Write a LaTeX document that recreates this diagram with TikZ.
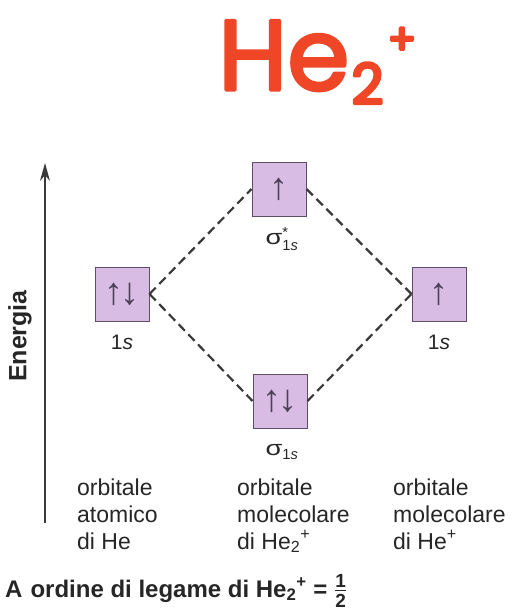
\documentclass[tikz,border=0pt]{standalone}
\usepackage{amsmath}
\usepackage{fontspec}
\usetikzlibrary{arrows.meta}
\setmainfont{Liberation Sans}
\newfontfamily\titlefont{Poppins}
\definecolor{titlered}{HTML}{EE4626}
\definecolor{boxfill}{HTML}{D8BCE4}
\definecolor{boxline}{HTML}{5E4E66}
\definecolor{arrowcol}{HTML}{4E3E58}
\definecolor{dashcol}{HTML}{3A3A3A}
\definecolor{textcol}{HTML}{262626}
\newcommand{\wsig}{\scalebox{1.3}[1]{σ}}
\newcommand{\fnum}[1]{\text{\fontsize{19}{19}\selectfont\bfseries #1}}
\newcommand{\heavytext}[1]{\special{pdf:literal direct 2 Tr 3 w 1 j}#1\special{pdf:literal direct 0 Tr 1 w 0 j}}
\begin{document}
\begin{tikzpicture}[x=1pt,y=-1pt,
  orb/.style={draw=boxline, fill=boxfill, line width=1pt, minimum width=54pt, minimum height=54pt, inner sep=0pt, font=\fontsize{38}{38}\selectfont, text=arrowcol},
  conn/.style={dash pattern=on 9pt off 5pt, line width=2.2pt, draw=dashcol},
  lbl/.style={font=\fontsize{21}{21}\selectfont, text=textcol, inner sep=0pt},
  col/.style={align=left, anchor=base west, font=\fontsize{23}{27}\selectfont, text=textcol, inner sep=0pt},
  axis/.style={line width=1.3pt, draw=dashcol, -{Stealth[length=18pt,width=10pt]}}]
\useasboundingbox (0,0) rectangle (523,613);
% title
\node[anchor=base west, inner sep=0pt, text=titlered, font=\titlefont\fontsize{100}{100}\selectfont] (title) at (218,90)
  {\heavytext{He\kern2pt\raisebox{-14pt}{\fontsize{56}{56}\selectfont 2}\kern4pt\raisebox{36pt}{\fontsize{42}{42}\selectfont +}}};
% energy axis
\coordinate (ax0) at (45,523);
\coordinate (ax1) at (45,163);
\draw[axis] (ax0) -- (ax1);
\node[rotate=90, font=\bfseries\fontsize{25}{25}\selectfont, text=textcol, inner sep=0pt] (energia) at (20,336) {Energia};
% orbitals
\node[orb] (L) at (122,294) {↑\kern-3pt↓};
\node[orb] (T) at (279,189) {↑};
\node[orb] (B) at (280,401) {↑\kern-3pt↓};
\node[orb] (R) at (439,294) {↑};
\draw[conn] (L.east) -- (T.west);
\draw[conn] (L.east) -- (B.west);
\draw[conn] (T.east) -- (R.west);
\draw[conn] (B.east) -- (R.west);
% labels
\node[lbl] (Llab) at (122,342) {1\textit{s}};
\node[lbl] (Rlab) at (439,342) {1\textit{s}};
\node[lbl] (Tlab) at (282,239) {$\text{\wsig}^{\text{*}}_{\text{1\textit{s}}}$};
\node[lbl] (Blab) at (282,452) {$\text{\wsig}_{\text{1\textit{s}}}$};
% columns
\node[col] (c1) at (77,549) {orbitale\\atomico\\di He};
\node[col] (c2) at (237,549) {orbitale\\molecolare\\di He\textsubscript{2}\textsuperscript{+}};
\node[col] (c3) at (393,549) {orbitale\\molecolare\\di He\textsuperscript{+}};
% caption
\node[anchor=base west, inner sep=0pt, text=textcol, font=\bfseries\fontsize{24}{24}\selectfont] (cap) at (5,597)
  {A\hspace{8pt}ordine di legame di He\textsubscript{2}\textsuperscript{+} = $\frac{\fnum{1}}{\fnum{\rule{0pt}{15.5pt}2}}$};
\end{tikzpicture}
\end{document}
